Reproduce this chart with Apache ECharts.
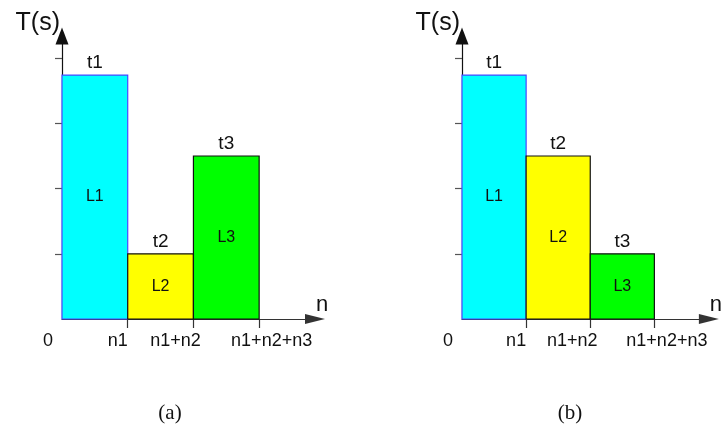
<!DOCTYPE html>
<html>
<head>
<meta charset="utf-8">
<script src="https://cdn.jsdelivr.net/npm/echarts@6/dist/echarts.min.js"></script>
<style>
html,body{margin:0;padding:0;background:#fff;}
#chart{width:725px;height:425px;}
</style>
</head>
<body>
<div id="chart"></div>
<script>
// ---- data ----
const boundaries = [0, 1, 2, 3];
const tickLabels = ['0', 'n1', 'n1+n2', 'n1+n2+n3'];
const barNames = ['L1', 'L2', 'L3'];
const topLabels = ['t1', 't2', 't3'];
const heightsA = [3.74, 1.0, 2.5];
const heightsB = [3.74, 2.5, 1.0];
const yTicks = [1, 2, 3, 4];
const captions = ['(a)', '(b)'];
const yName = 'T(s)';
const xName = 'n';

// ---- styles ----
const fills = ['#00ffff', '#ffff00', '#00ff00'];
const strokes = ['#4848ff', '#111111', '#111111'];
const SANS = '"Liberation Sans", Arial, sans-serif';
const SERIF = '"Liberation Serif", "Times New Roman", serif';
// horizontal padding [left, right] to nudge each tick label off its tick
const labelPads = [[0, 28], [0, 20], [0, 36], [25, 0]];

function buildData(heights) {
  return heights.map((h, i) => [boundaries[i], boundaries[i + 1], h, i]);
}

function renderItem(params, api) {
  const x0 = api.value(0), x1 = api.value(1), h = api.value(2), idx = api.value(3);
  const p0 = api.coord([x0, h]);
  const p1 = api.coord([x1, 0]);
  const cx = (p0[0] + p1[0]) / 2;
  return {
    type: 'group',
    children: [
      {
        type: 'rect',
        shape: { x: p0[0], y: p0[1], width: p1[0] - p0[0], height: p1[1] - p0[1] },
        style: { fill: fills[idx], stroke: strokes[idx], lineWidth: 1.2 }
      },
      {
        type: 'text',
        x: cx, y: (p0[1] + p1[1]) / 2,
        style: { text: barNames[idx], fill: '#111', fontSize: 16, fontFamily: SANS, align: 'center', verticalAlign: 'middle' }
      },
      {
        type: 'text',
        x: cx, y: p0[1] - 3,
        style: { text: topLabels[idx], fill: '#111', fontSize: 19, fontFamily: SANS, align: 'center', verticalAlign: 'bottom' }
      }
    ]
  };
}

const richStyles = {};
labelPads.forEach((p, i) => {
  richStyles['l' + i] = { fontFamily: SANS, fontSize: 18, color: '#111', padding: [0, p[1], 0, p[0]] };
});

function xAxis(gi) {
  return {
    type: 'value', gridIndex: gi, min: 0, max: 3.85,
    name: xName, nameLocation: 'end', nameGap: 7,
    nameTextStyle: { fontFamily: SANS, fontSize: 22, color: '#111', align: 'center', verticalAlign: 'bottom', padding: [0, 0, 3, 0] },
    axisLine: { show: true, lineStyle: { color: '#333', width: 1.2 }, symbol: ['none', 'triangle'], symbolSize: [10, 20] },
    axisTick: { show: true, customValues: [1, 2, 3], length: 9, lineStyle: { color: '#333', width: 1.2 } },
    axisLabel: {
      customValues: boundaries,
      margin: 13,
      fontFamily: SANS, fontSize: 18, color: '#111',
      formatter: function (v) {
        const i = boundaries.indexOf(v);
        return i >= 0 ? '{l' + i + '|' + tickLabels[i] + '}' : '';
      },
      rich: richStyles
    },
    splitLine: { show: false }
  };
}

function yAxis(gi) {
  return {
    type: 'value', gridIndex: gi, min: 0, max: 4.34,
    name: yName, nameLocation: 'end', nameGap: 13,
    nameTextStyle: { fontFamily: SANS, fontSize: 25, color: '#111', align: 'right', verticalAlign: 'middle', padding: [0, 2, 0, 0] },
    axisLine: { show: true, lineStyle: { color: '#111', width: 1.2 }, symbol: ['none', 'triangle'], symbolSize: [13, 17] },
    axisTick: { show: true, customValues: yTicks, length: 7, lineStyle: { color: '#555', width: 1.2 } },
    axisLabel: { show: false },
    splitLine: { show: false }
  };
}

const chart = echarts.init(document.getElementById('chart'), null, { renderer: 'canvas' });
chart.setOption({
  backgroundColor: '#ffffff',
  animation: false,
  grid: [
    { left: 62, top: 36, width: 253, height: 283 },
    { left: 462, top: 36, width: 253, height: 283 }
  ],
  xAxis: [xAxis(0), xAxis(1)],
  yAxis: [yAxis(0), yAxis(1)],
  series: [
    { type: 'custom', xAxisIndex: 0, yAxisIndex: 0, renderItem: renderItem, encode: { x: [0, 1], y: 2 }, data: buildData(heightsA), z: 3 },
    { type: 'custom', xAxisIndex: 1, yAxisIndex: 1, renderItem: renderItem, encode: { x: [0, 1], y: 2 }, data: buildData(heightsB), z: 3 }
  ],
  graphic: [
    { type: 'text', x: 170, y: 413, style: { text: captions[0], fontSize: 21, fontFamily: SERIF, fill: '#111', align: 'center', verticalAlign: 'middle' } },
    { type: 'text', x: 570, y: 413, style: { text: captions[1], fontSize: 21, fontFamily: SERIF, fill: '#111', align: 'center', verticalAlign: 'middle' } }
  ]
});
</script>
</body>
</html>
